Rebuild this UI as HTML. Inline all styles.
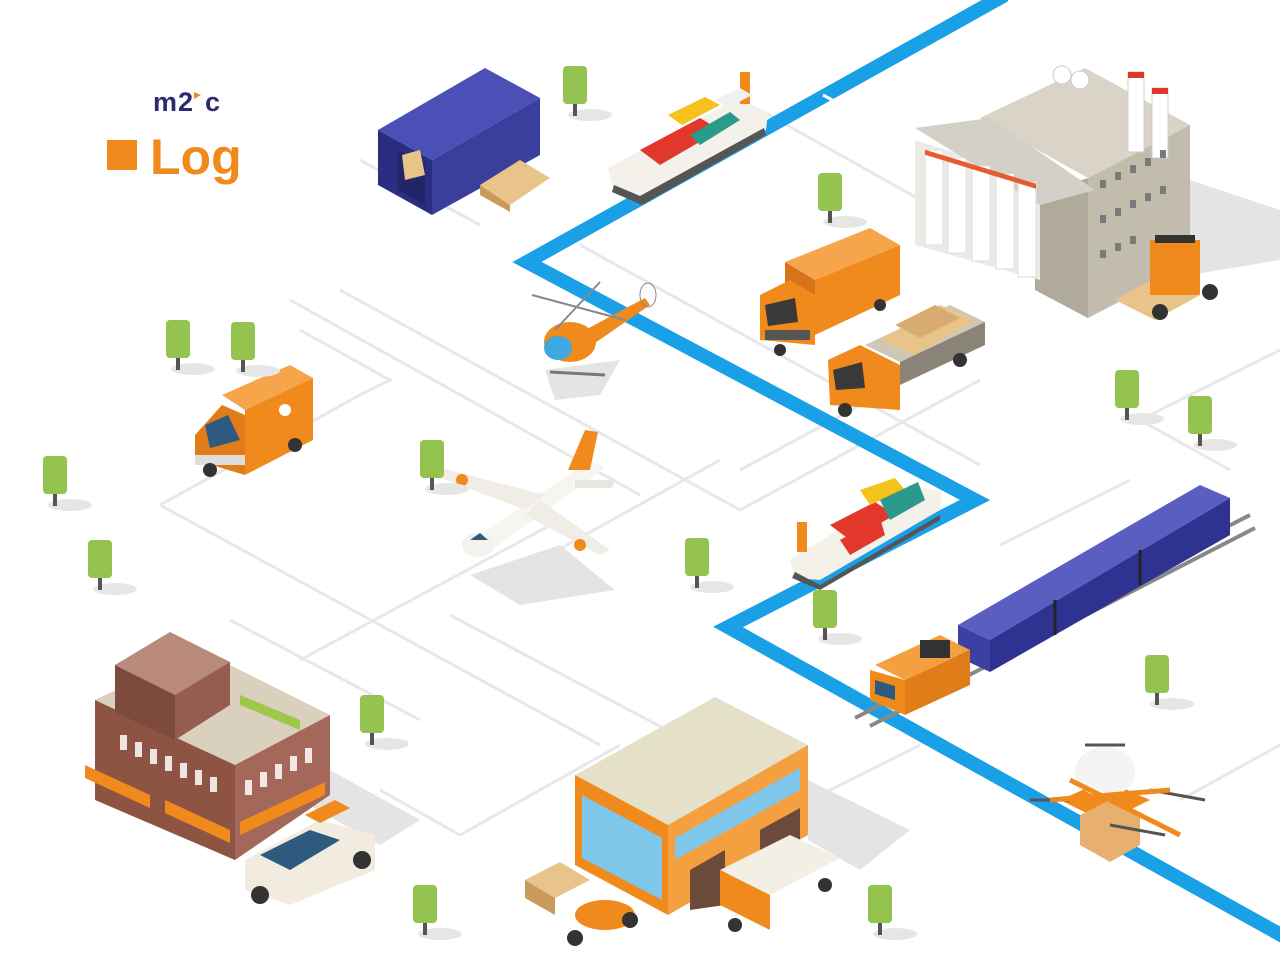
<!DOCTYPE html>
<html><head><meta charset="utf-8"><style>
html,body{margin:0;padding:0;background:#fff;}
svg{display:block;}
</style></head><body>
<svg width="1280" height="959" viewBox="0 0 1280 959" xmlns="http://www.w3.org/2000/svg" font-family="Liberation Sans, sans-serif">
<rect width="1280" height="959" fill="#fff"/>
<!-- road grid -->
<g stroke="#e6e8ea" stroke-width="3" fill="none">
<polyline points="160,505 360,395 390,380 300,330"/>
<polyline points="160,505 600,745"/>
<polyline points="290,300 640,495"/>
<polyline points="340,290 740,510 980,380"/>
<polyline points="580,245 980,465"/>
<polyline points="740,470 870,400"/>
<polyline points="360,160 480,225"/>
<polyline points="760,110 1010,250"/>
<polyline points="1000,545 1130,480"/>
<polyline points="1140,420 1230,470"/>
<polyline points="1140,420 1280,350"/>
<polyline points="1180,800 1280,745"/>
<polyline points="300,660 560,520"/>
<polyline points="380,790 460,835 620,745"/>
<polyline points="820,795 920,745"/>
<polyline points="230,620 420,720"/>
<polyline points="540,560 720,460"/>
<polyline points="450,615 780,790"/>
</g>
<!-- blue route -->
<polyline points="1005,-5 527,262 975,500 728,627 1290,940" fill="none" stroke="#1aa0e6" stroke-width="14" stroke-linejoin="miter"/>
<polyline points="823,95 880,126" stroke="#fff" stroke-width="3"/>
<!-- shadows -->
<g fill="#e4e4e6">
<polygon points="1190,180 1280,210 1280,260 1190,275"/>
<polygon points="470,575 560,545 615,590 520,605"/>
<polygon points="330,770 420,820 380,845 300,800"/>
<polygon points="808,780 910,830 860,870 808,840"/>
<polygon points="545,370 620,360 600,395 555,400"/>
</g>
<!-- logo -->
<text x="153" y="111" font-size="27" font-weight="bold" fill="#2e2a6e" letter-spacing="1">m2</text>
<polygon points="194,92 201,95 194,99" fill="#f08a1c"/>
<text x="205" y="111" font-size="27" font-weight="bold" fill="#2e2a6e">c</text>
<rect x="107" y="140" width="30" height="30" fill="#f08a1c"/>
<text x="150" y="174" font-size="50" font-weight="bold" fill="#f08a1c">Log</text>
<!-- container -->
<polygon points="378,130 485,68 540,98 432,160" fill="#4a50b5"/>
<polygon points="378,130 432,160 432,215 378,185" fill="#2a2e80"/>
<polygon points="432,160 540,98 540,155 432,215" fill="#3a3f9e"/>
<polygon points="398,150 425,164 425,205 398,190" fill="#222566"/>
<polygon points="402,155 420,150 425,175 405,180" fill="#e8c48a"/>
<polygon points="480,185 520,160 550,178 510,205" fill="#e8c48a"/>
<polygon points="480,185 510,205 510,212 480,195" fill="#c99a5a"/>
<!-- ship 1 -->
<polygon points="608,168 738,98 768,113 766,130 642,200 614,192" fill="#f4f1ea"/>
<polygon points="614,185 640,196 764,128 766,135 642,205 612,192" fill="#555"/>
<rect x="740" y="72" width="10" height="32" fill="#f08a1c"/>
<polygon points="640,150 700,118 720,130 660,165" fill="#e2382c"/>
<polygon points="668,115 705,97 720,105 682,125" fill="#f5c21c"/>
<polygon points="690,135 730,112 740,120 700,145" fill="#2a9a8a"/>
<polygon points="715,100 740,88 752,95 728,108" fill="#f0f0f0"/>
<!-- factory -->
<polygon points="980,118 1085,68 1190,125 1088,178" fill="#d9d4c7"/>
<polygon points="1088,178 1190,125 1190,265 1088,318" fill="#c2bcad"/>
<polygon points="1035,195 1088,178 1088,318 1035,290" fill="#b0aa9b"/>
<polygon points="915,140 1040,180 1040,280 915,245" fill="#eceae4"/>
<polygon points="915,128 990,118 1095,190 1040,205" fill="#d3d0c8"/>
<g fill="#fff" stroke="#ddd">
<rect x="925" y="150" width="18" height="95"/><rect x="948" y="158" width="18" height="95"/><rect x="972" y="166" width="18" height="95"/><rect x="996" y="174" width="18" height="95"/><rect x="1018" y="182" width="18" height="95"/>
</g>
<g fill="#e85a30"><rect x="925" y="150" width="111" height="5" transform="skewY(17) translate(0,-283)"/></g>
<rect x="1128" y="72" width="16" height="80" fill="#fff" stroke="#ccc"/>
<rect x="1152" y="88" width="16" height="70" fill="#fff" stroke="#ccc"/>
<rect x="1128" y="72" width="16" height="6" fill="#e2382c"/><rect x="1152" y="88" width="16" height="6" fill="#e2382c"/>
<circle cx="1062" cy="75" r="9" fill="#fff" stroke="#ccc"/><circle cx="1080" cy="80" r="9" fill="#fff" stroke="#ccc"/>
<g fill="#7a7a7a"><rect x="1100" y="180" width="6" height="8"/><rect x="1115" y="172" width="6" height="8"/><rect x="1130" y="165" width="6" height="8"/><rect x="1145" y="158" width="6" height="8"/><rect x="1160" y="150" width="6" height="8"/><rect x="1100" y="215" width="6" height="8"/><rect x="1115" y="208" width="6" height="8"/><rect x="1130" y="200" width="6" height="8"/><rect x="1145" y="193" width="6" height="8"/><rect x="1160" y="186" width="6" height="8"/><rect x="1100" y="250" width="6" height="8"/><rect x="1115" y="243" width="6" height="8"/><rect x="1130" y="236" width="6" height="8"/></g>
<polygon points="1115,300 1160,275 1200,295 1155,320" fill="#e8c48a"/>
<rect x="1150" y="240" width="50" height="55" fill="#f08a1c"/>
<rect x="1155" y="235" width="40" height="8" fill="#333"/>
<circle cx="1160" cy="312" r="8" fill="#333"/><circle cx="1210" cy="292" r="8" fill="#333"/>
<!-- trucks -->
<polygon points="785,262 870,228 900,245 815,280" fill="#f7a54a"/>
<polygon points="815,280 900,245 900,295 815,335" fill="#f08a1c"/>
<polygon points="785,262 815,280 815,335 785,318" fill="#d8731a"/>
<polygon points="760,295 790,280 815,295 815,345 760,340" fill="#f08a1c"/>
<polygon points="765,305 795,298 798,322 768,326" fill="#3a3a3a"/>
<rect x="765" y="330" width="45" height="10" fill="#555"/>
<circle cx="780" cy="350" r="6" fill="#333"/><circle cx="880" cy="305" r="6" fill="#333"/>
<polygon points="865,345 950,305 985,322 900,362" fill="#cfc7b5"/>
<polygon points="880,340 940,305 975,320 915,355" fill="#e8c48a"/>
<polygon points="895,325 935,305 960,318 920,338" fill="#d8ac70"/>
<polygon points="900,362 985,322 985,345 900,385" fill="#8a8478"/>
<polygon points="828,360 860,345 900,365 900,410 830,405" fill="#f08a1c"/>
<polygon points="833,370 862,362 865,388 836,390" fill="#3a3a3a"/>
<circle cx="845" cy="410" r="7" fill="#333"/><circle cx="960" cy="360" r="7" fill="#333"/>
<!-- helicopter -->
<ellipse cx="570" cy="342" rx="26" ry="20" fill="#f08a1c"/>
<ellipse cx="558" cy="348" rx="14" ry="12" fill="#3fa8e0"/>
<polygon points="585,330 645,298 650,305 592,345" fill="#f08a1c"/>
<line x1="532" y1="295" x2="625" y2="320" stroke="#888" stroke-width="2"/>
<line x1="600" y1="282" x2="555" y2="330" stroke="#888" stroke-width="2"/>
<ellipse cx="648" cy="295" rx="8" ry="12" fill="none" stroke="#888"/>
<line x1="550" y1="372" x2="605" y2="375" stroke="#777" stroke-width="3"/>
<!-- van -->
<polygon points="222,395 290,365 313,378 245,410" fill="#f7a54a"/>
<polygon points="245,410 313,378 313,440 245,475" fill="#f08a1c"/>
<polygon points="195,435 222,405 245,415 245,475 195,460" fill="#e07d18"/>
<polygon points="205,425 228,415 240,440 210,448" fill="#2f5a80"/>
<rect x="195" y="455" width="50" height="10" fill="#ddd"/>
<circle cx="210" cy="470" r="7" fill="#333"/><circle cx="295" cy="445" r="7" fill="#333"/>
<circle cx="285" cy="410" r="6" fill="#fff"/>
<!-- plane -->
<polygon points="465,545 590,460 605,468 485,555" fill="#f7f5f0"/>
<ellipse cx="478" cy="545" rx="16" ry="12" fill="#f4f2ee"/>
<polygon points="470,540 480,533 488,540" fill="#2f5a80"/>
<polygon points="525,510 420,470 430,465 545,495" fill="#f0ede6"/>
<polygon points="540,500 610,550 600,555 525,515" fill="#f0ede6"/>
<polygon points="568,470 585,430 598,432 590,470" fill="#f08a1c"/>
<polygon points="575,480 615,480 612,488 575,488" fill="#e8e6e0"/>
<circle cx="462" cy="480" r="6" fill="#f08a1c"/><circle cx="580" cy="545" r="6" fill="#f08a1c"/>
<!-- ship 2 -->
<polygon points="790,560 910,485 942,492 940,510 820,580 795,578" fill="#f4f1ea"/>
<polygon points="795,572 820,585 940,515 940,520 820,590 792,578" fill="#555"/>
<rect x="797" y="522" width="10" height="30" fill="#f08a1c"/>
<polygon points="830,525 875,502 895,515 850,540" fill="#e2382c"/>
<polygon points="860,490 895,478 905,490 870,505" fill="#f5c21c"/>
<polygon points="840,540 880,518 885,535 850,555" fill="#e2382c"/>
<polygon points="880,500 918,482 925,500 890,520" fill="#2a9a8a"/>
<!-- train -->
<line x1="855" y1="718" x2="1250" y2="515" stroke="#888" stroke-width="4"/>
<line x1="870" y1="726" x2="1255" y2="528" stroke="#888" stroke-width="4"/>
<polygon points="958,625 1200,485 1230,498 990,640" fill="#5a5ec0"/>
<polygon points="990,640 1230,498 1230,535 990,672" fill="#2e3290"/>
<polygon points="958,625 990,640 990,672 958,657" fill="#3c40a2"/>
<line x1="1055" y1="600" x2="1055" y2="635" stroke="#222" stroke-width="3"/>
<line x1="1140" y1="550" x2="1140" y2="585" stroke="#222" stroke-width="3"/>
<polygon points="875,665 940,635 970,650 905,680" fill="#f5a040"/>
<polygon points="905,680 970,650 970,685 905,715" fill="#e07d18"/>
<polygon points="870,670 905,680 905,715 870,700" fill="#f08a1c"/>
<rect x="920" y="640" width="30" height="18" fill="#333"/>
<polygon points="875,680 895,686 895,700 875,694" fill="#2f5a80"/>
<!-- drone -->
<polygon points="1060,800 1105,780 1150,800 1105,822" fill="#f08a1c"/>
<ellipse cx="1105" cy="772" rx="30" ry="25" fill="#f4f4f4"/>
<polygon points="1080,815 1110,800 1140,815 1140,845 1110,862 1080,845" fill="#e8b070"/>
<g stroke="#555" stroke-width="3"><line x1="1030" y1="800" x2="1070" y2="800"/><line x1="1150" y1="790" x2="1205" y2="800"/><line x1="1085" y1="745" x2="1125" y2="745"/><line x1="1110" y1="825" x2="1165" y2="835"/></g>
<line x1="1070" y1="780" x2="1180" y2="835" stroke="#f08a1c" stroke-width="5"/>
<line x1="1050" y1="800" x2="1170" y2="790" stroke="#f08a1c" stroke-width="5"/>
<!-- brick building -->
<polygon points="95,700 200,650 330,715 235,765" fill="#d9d0bd"/>
<polygon points="95,700 235,765 235,860 95,800" fill="#8d5444"/>
<polygon points="235,765 330,715 330,795 235,860" fill="#a4685a"/>
<polygon points="115,665 170,632 230,662 175,695" fill="#b98a7a"/>
<polygon points="115,665 175,695 175,740 115,712" fill="#7d4a3d"/>
<polygon points="175,695 230,662 230,705 175,740" fill="#955d4f"/>
<g fill="#fff" opacity=".85">
<rect x="120" y="735" width="7" height="15"/><rect x="135" y="742" width="7" height="15"/><rect x="150" y="749" width="7" height="15"/><rect x="165" y="756" width="7" height="15"/><rect x="180" y="763" width="7" height="15"/><rect x="195" y="770" width="7" height="15"/><rect x="210" y="777" width="7" height="15"/>
<rect x="245" y="780" width="7" height="15"/><rect x="260" y="772" width="7" height="15"/><rect x="275" y="764" width="7" height="15"/><rect x="290" y="756" width="7" height="15"/><rect x="305" y="748" width="7" height="15"/>
</g>
<polygon points="85,765 150,795 150,808 85,778" fill="#f08a1c"/>
<polygon points="165,800 230,830 230,843 165,813" fill="#f08a1c"/>
<polygon points="240,822 325,782 325,795 240,835" fill="#f08a1c"/>
<polygon points="240,695 300,720 300,730 240,705" fill="#9fc84a"/>
<!-- car -->
<polygon points="245,860 320,820 375,835 375,870 290,905 245,890" fill="#f2ece0"/>
<polygon points="260,855 310,830 340,840 290,870" fill="#2f5a80"/>
<polygon points="305,815 335,800 350,808 320,823" fill="#f08a1c"/>
<circle cx="260" cy="895" r="9" fill="#333"/><circle cx="362" cy="860" r="9" fill="#333"/>
<!-- warehouse -->
<polygon points="575,775 715,697 808,745 668,825" fill="#e5e0c8"/>
<polygon points="575,775 668,825 668,915 575,865" fill="#f08a1c"/>
<polygon points="668,825 808,745 808,835 668,915" fill="#f5a040"/>
<polygon points="582,795 662,838 662,900 582,858" fill="#7ec6ea"/>
<polygon points="675,838 800,768 800,790 675,860" fill="#7ec6ea"/>
<polygon points="690,870 725,850 725,905 690,910" fill="#6b4a3a"/>
<polygon points="760,830 800,808 800,840 760,860" fill="#6b4a3a"/>
<polygon points="720,870 790,835 840,858 770,895" fill="#f4efe4"/>
<polygon points="720,870 770,895 770,930 720,905" fill="#f08a1c"/>
<circle cx="735" cy="925" r="7" fill="#333"/><circle cx="825" cy="885" r="7" fill="#333"/>
<polygon points="525,880 560,862 590,880 555,898" fill="#e8c48a"/>
<polygon points="525,880 555,898 555,915 525,898" fill="#c99a5a"/>
<ellipse cx="605" cy="915" rx="30" ry="15" fill="#f08a1c"/>
<circle cx="575" cy="938" r="8" fill="#333"/><circle cx="630" cy="920" r="8" fill="#333"/>
<!-- trees -->
<g>
<g transform="translate(575,88)"><ellipse cx="15" cy="27" rx="22" ry="6" fill="#e6e6e6"/><rect x="-2" y="14" width="4" height="14" fill="#555"/><rect x="-12" y="-22" width="24" height="38" rx="4" fill="#95c34f"/></g>
<g transform="translate(830,195)"><ellipse cx="15" cy="27" rx="22" ry="6" fill="#e6e6e6"/><rect x="-2" y="14" width="4" height="14" fill="#555"/><rect x="-12" y="-22" width="24" height="38" rx="4" fill="#95c34f"/></g>
<g transform="translate(178,342)"><ellipse cx="15" cy="27" rx="22" ry="6" fill="#e6e6e6"/><rect x="-2" y="14" width="4" height="14" fill="#555"/><rect x="-12" y="-22" width="24" height="38" rx="4" fill="#95c34f"/></g>
<g transform="translate(243,344)"><ellipse cx="15" cy="27" rx="22" ry="6" fill="#e6e6e6"/><rect x="-2" y="14" width="4" height="14" fill="#555"/><rect x="-12" y="-22" width="24" height="38" rx="4" fill="#95c34f"/></g>
<g transform="translate(55,478)"><ellipse cx="15" cy="27" rx="22" ry="6" fill="#e6e6e6"/><rect x="-2" y="14" width="4" height="14" fill="#555"/><rect x="-12" y="-22" width="24" height="38" rx="4" fill="#95c34f"/></g>
<g transform="translate(100,562)"><ellipse cx="15" cy="27" rx="22" ry="6" fill="#e6e6e6"/><rect x="-2" y="14" width="4" height="14" fill="#555"/><rect x="-12" y="-22" width="24" height="38" rx="4" fill="#95c34f"/></g>
<g transform="translate(432,462)"><ellipse cx="15" cy="27" rx="22" ry="6" fill="#e6e6e6"/><rect x="-2" y="14" width="4" height="14" fill="#555"/><rect x="-12" y="-22" width="24" height="38" rx="4" fill="#95c34f"/></g>
<g transform="translate(697,560)"><ellipse cx="15" cy="27" rx="22" ry="6" fill="#e6e6e6"/><rect x="-2" y="14" width="4" height="14" fill="#555"/><rect x="-12" y="-22" width="24" height="38" rx="4" fill="#95c34f"/></g>
<g transform="translate(825,612)"><ellipse cx="15" cy="27" rx="22" ry="6" fill="#e6e6e6"/><rect x="-2" y="14" width="4" height="14" fill="#555"/><rect x="-12" y="-22" width="24" height="38" rx="4" fill="#95c34f"/></g>
<g transform="translate(1127,392)"><ellipse cx="15" cy="27" rx="22" ry="6" fill="#e6e6e6"/><rect x="-2" y="14" width="4" height="14" fill="#555"/><rect x="-12" y="-22" width="24" height="38" rx="4" fill="#95c34f"/></g>
<g transform="translate(1200,418)"><ellipse cx="15" cy="27" rx="22" ry="6" fill="#e6e6e6"/><rect x="-2" y="14" width="4" height="14" fill="#555"/><rect x="-12" y="-22" width="24" height="38" rx="4" fill="#95c34f"/></g>
<g transform="translate(1157,677)"><ellipse cx="15" cy="27" rx="22" ry="6" fill="#e6e6e6"/><rect x="-2" y="14" width="4" height="14" fill="#555"/><rect x="-12" y="-22" width="24" height="38" rx="4" fill="#95c34f"/></g>
<g transform="translate(372,717)"><ellipse cx="15" cy="27" rx="22" ry="6" fill="#e6e6e6"/><rect x="-2" y="14" width="4" height="14" fill="#555"/><rect x="-12" y="-22" width="24" height="38" rx="4" fill="#95c34f"/></g>
<g transform="translate(425,907)"><ellipse cx="15" cy="27" rx="22" ry="6" fill="#e6e6e6"/><rect x="-2" y="14" width="4" height="14" fill="#555"/><rect x="-12" y="-22" width="24" height="38" rx="4" fill="#95c34f"/></g>
<g transform="translate(880,907)"><ellipse cx="15" cy="27" rx="22" ry="6" fill="#e6e6e6"/><rect x="-2" y="14" width="4" height="14" fill="#555"/><rect x="-12" y="-22" width="24" height="38" rx="4" fill="#95c34f"/></g>
</g>
</svg>
</body></html>
